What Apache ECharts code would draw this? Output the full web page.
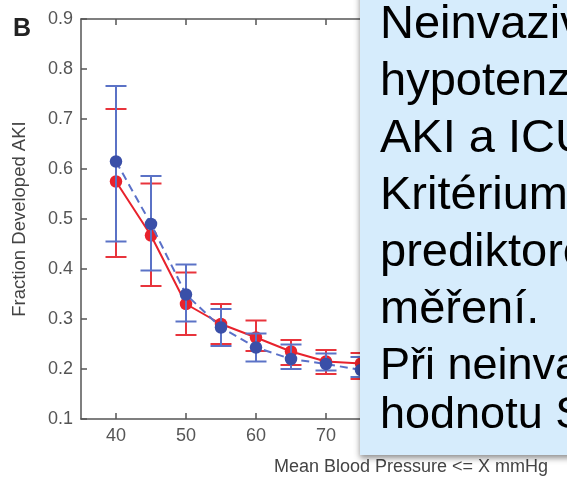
<!DOCTYPE html>
<html><head><meta charset="utf-8">
<script src="https://cdn.jsdelivr.net/npm/echarts@6/dist/echarts.min.js"></script>
<style>html,body{margin:0;padding:0;background:#fff}#c{width:567px;height:478px}</style>
</head><body><div id="c"></div>
<script>
const mbp = [40, 45, 50, 55, 60, 65, 70, 75];
const redMean  = [0.575, 0.467, 0.330, 0.290, 0.263, 0.235, 0.215, 0.211];
const redLow   = [0.424, 0.366, 0.268, 0.250, 0.236, 0.208, 0.190, 0.180];
const redHigh  = [0.720, 0.571, 0.393, 0.330, 0.297, 0.258, 0.238, 0.232];
const blueMean = [0.615, 0.490, 0.349, 0.283, 0.243, 0.220, 0.210, 0.198];
const blueLow  = [0.455, 0.397, 0.295, 0.246, 0.215, 0.200, 0.197, 0.184];
const blueHigh = [0.766, 0.586, 0.409, 0.320, 0.271, 0.249, 0.231, 0.224];
const xTicks = [40, 50, 60, 70, 80, 90];
const yAxisName = 'Fraction Developed AKI';
const xAxisName = 'Mean Blood Pressure <= X mmHg';
const panelLabel = 'B';
const boxLinesBig = ['Neinvazivní', 'hypotenze', 'AKI a ICU', 'Kritérium', 'prediktorem', 'měření.'];
const boxLinesSmall = ['Při neinvazivním', 'hodnotu SBP'];

const RED = '#e8222c', RED_BAR = '#e8343c';
const BLUE = '#3a4fa8', BLUE_LINE = '#5a70c8', BLUE_BAR = '#5b72c6';

function errRender(color) {
  return function (params, api) {
    const x = api.value(0), lo = api.value(1), hi = api.value(2);
    const pLo = api.coord([x, lo]), pHi = api.coord([x, hi]);
    const hw = 10.5;
    const style = { stroke: color, lineWidth: 2, fill: null };
    return { type: 'group', children: [
      { type: 'line', shape: { x1: pLo[0], y1: pLo[1], x2: pHi[0], y2: pHi[1] }, style: style },
      { type: 'line', shape: { x1: pHi[0] - hw, y1: pHi[1], x2: pHi[0] + hw, y2: pHi[1] }, style: style },
      { type: 'line', shape: { x1: pLo[0] - hw, y1: pLo[1], x2: pLo[0] + hw, y2: pLo[1] }, style: style }
    ]};
  };
}

const FONT = '"Liberation Sans", Arial, Helvetica, sans-serif';
const axisLine = { show: true, lineStyle: { color: '#555', width: 1.5 } };

const graphics = [
  { type: 'text', left: 13, top: 17, z: 50,
    style: { text: panelLabel, font: 'bold 25px ' + FONT, fill: '#222' } },
  { type: 'text', x: 274, y: 467, z: 50,
    style: { text: xAxisName, font: '18px ' + FONT, fill: '#444', verticalAlign: 'middle', align: 'left' } },
  { type: 'rect', shape: { x: 360, y: -10, width: 230, height: 465 }, z: 100,
    style: { fill: '#d6ecfc', shadowBlur: 6, shadowOffsetY: 3, shadowColor: 'rgba(0,0,0,0.45)' } }
];
boxLinesBig.forEach(function (t, i) {
  graphics.push({ type: 'text', x: 380, y: 41 + 57 * i - 16.3, z: 101,
    style: { text: t, font: '47px ' + FONT, fill: '#000', verticalAlign: 'middle', align: 'left' } });
});
boxLinesSmall.forEach(function (t, i) {
  graphics.push({ type: 'text', x: 380, y: 382 + 49 * i - 15.6, z: 101,
    style: { text: t, font: '45px ' + FONT, fill: '#000', verticalAlign: 'middle', align: 'left' } });
});

const chart = echarts.init(document.getElementById('c'), null, { renderer: 'canvas' });
chart.setOption({
  animation: false,
  backgroundColor: '#fff',
  textStyle: { fontFamily: FONT },
  grid: { left: 81, top: 19, right: 31, bottom: 59, containLabel: false, outerBoundsMode: 'none' },
  xAxis: [
    { type: 'value', min: 35, max: 100, position: 'bottom',
      axisLine: axisLine,
      axisTick: { show: true, inside: true, length: 6, customValues: xTicks, lineStyle: { color: '#555', width: 1.5 } },
      axisLabel: { show: true, customValues: xTicks, fontSize: 18, color: '#555', margin: 8, fontFamily: FONT },
      splitLine: { show: false } },
    { type: 'value', min: 35, max: 100, position: 'top',
      axisLine: axisLine,
      axisTick: { show: true, inside: true, length: 6, customValues: xTicks, lineStyle: { color: '#555', width: 1.5 } },
      axisLabel: { show: false },
      splitLine: { show: false } }
  ],
  yAxis: [
    { type: 'value', min: 0.1, max: 0.9, interval: 0.1,
      name: yAxisName, nameLocation: 'middle', nameRotate: 90, nameGap: 52,
      nameTextStyle: { fontSize: 18.5, color: '#444', fontFamily: FONT },
      axisLine: axisLine,
      axisTick: { show: true, inside: true, length: 6, lineStyle: { color: '#555', width: 1.5 } },
      axisLabel: { fontSize: 18, color: '#555', margin: 8, fontFamily: FONT,
        formatter: function (v) { return v.toFixed(1); } },
      splitLine: { show: false } }
  ],
  series: [
    { type: 'custom', xAxisIndex: 0, renderItem: errRender(RED_BAR), encode: { x: 0, y: [1, 2] },
      data: mbp.map(function (x, i) { return [x, redLow[i], redHigh[i]]; }), z: 2 },
    { type: 'line', xAxisIndex: 0, data: mbp.map(function (x, i) { return [x, redMean[i]]; }),
      symbol: 'circle', symbolSize: 12.5, itemStyle: { color: RED },
      lineStyle: { color: RED, width: 2 }, z: 3 },
    { type: 'custom', xAxisIndex: 0, renderItem: errRender(BLUE_BAR), encode: { x: 0, y: [1, 2] },
      data: mbp.map(function (x, i) { return [x, blueLow[i], blueHigh[i]]; }), z: 4 },
    { type: 'line', xAxisIndex: 0, data: mbp.map(function (x, i) { return [x, blueMean[i]]; }),
      symbol: 'circle', symbolSize: 12.5, itemStyle: { color: BLUE },
      lineStyle: { color: BLUE_LINE, width: 2, type: [8, 5] }, z: 5 }
  ],
  graphic: graphics
});
</script>
</body></html>
